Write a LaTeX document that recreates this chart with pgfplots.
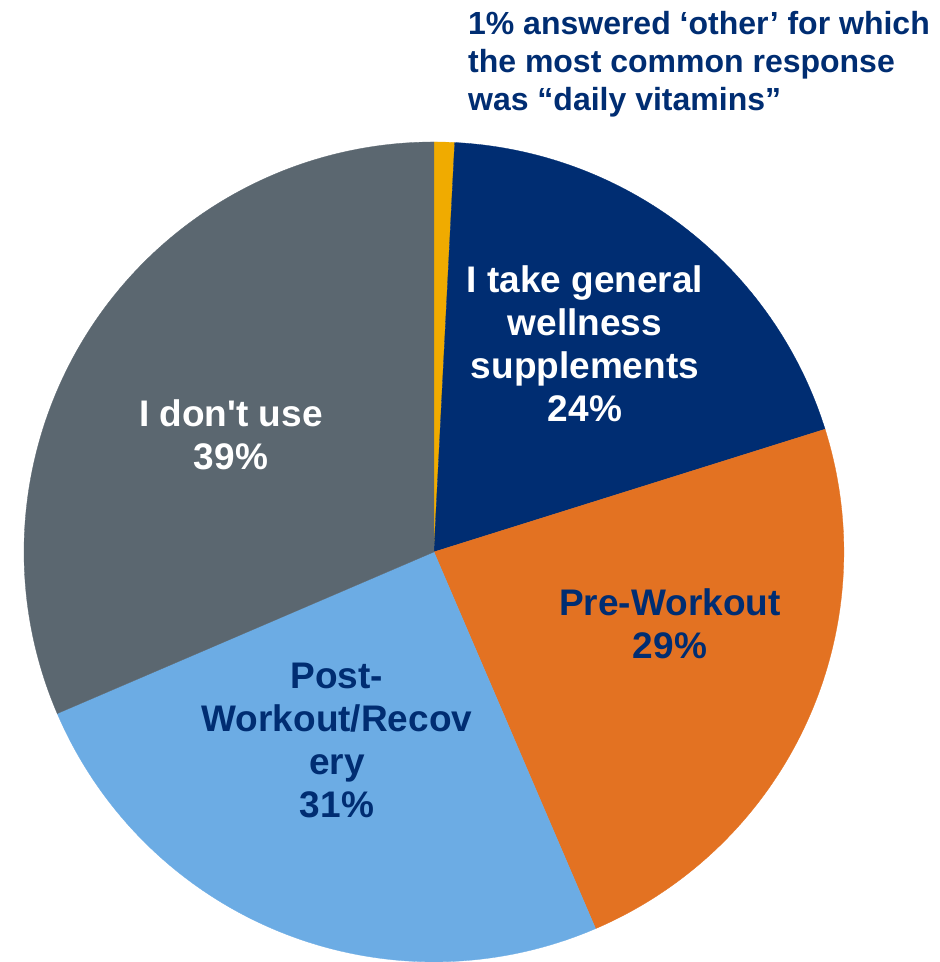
\documentclass[border=0pt]{standalone}
\usepackage{pgfplots}
\usepackage{pgfplotstable}
\pgfplotsset{compat=1.18}
\usepackage{fontspec}
\setmainfont{Liberation Sans}[Ligatures=TeXOff]
\definecolor{cOther}{RGB}{240,171,0}
\definecolor{cWell}{RGB}{0,45,114}
\definecolor{cPre}{RGB}{227,114,34}
\definecolor{cPost}{RGB}{108,172,228}
\definecolor{cNone}{RGB}{91,103,112}
\definecolor{cText}{RGB}{0,45,114}
\pgfplotstableread{
label value
other 1
wellness 24
pre 29
post 31
none 39
}\piedata
\begin{document}
\begin{tikzpicture}
\pgfplotstablegetelem{0}{value}\of\piedata \pgfmathsetmacro\vA{\pgfplotsretval}
\pgfplotstablegetelem{1}{value}\of\piedata \pgfmathsetmacro\vB{\pgfplotsretval}
\pgfplotstablegetelem{2}{value}\of\piedata \pgfmathsetmacro\vC{\pgfplotsretval}
\pgfplotstablegetelem{3}{value}\of\piedata \pgfmathsetmacro\vD{\pgfplotsretval}
\pgfplotstablegetelem{4}{value}\of\piedata \pgfmathsetmacro\vE{\pgfplotsretval}
\pgfmathsetmacro\tot{\vA+\vB+\vC+\vD+\vE}
\pgfmathsetmacro\aA{90}
\pgfmathsetmacro\aB{\aA-360*\vA/\tot}
\pgfmathsetmacro\aC{\aB-360*\vB/\tot}
\pgfmathsetmacro\aD{\aC-360*\vC/\tot}
\pgfmathsetmacro\aE{\aD-360*\vD/\tot}
\pgfmathsetmacro\aF{\aE-360*\vE/\tot}
\def\R{410}
\begin{axis}[width=940pt,height=962pt,scale only axis,hide axis,
  xmin=-434,xmax=506,ymin=-410,ymax=552,clip=false]
\path (axis cs:-434,-410) rectangle (axis cs:506,552);
\addplot[fill=cOther,draw=cOther,line width=0.3pt,domain=\aB:\aA,samples=10,variable=\t] ({\R*cos(\t)},{\R*sin(\t)}) -- (axis cs:0,0) -- cycle;
\addplot[fill=cWell,draw=cWell,line width=0.3pt,domain=\aC:\aB,samples=120,variable=\t] ({\R*cos(\t)},{\R*sin(\t)}) -- (axis cs:0,0) -- cycle;
\addplot[fill=cPre,draw=cPre,line width=0.3pt,domain=\aD:\aC,samples=140,variable=\t] ({\R*cos(\t)},{\R*sin(\t)}) -- (axis cs:0,0) -- cycle;
\addplot[fill=cPost,draw=cPost,line width=0.3pt,domain=\aE:\aD,samples=150,variable=\t] ({\R*cos(\t)},{\R*sin(\t)}) -- (axis cs:0,0) -- cycle;
\addplot[fill=cNone,draw=cNone,line width=0.3pt,domain=\aF:\aE,samples=180,variable=\t] ({\R*cos(\t)},{\R*sin(\t)}) -- (axis cs:0,0) -- cycle;
\node[anchor=base,align=center,text=white,inner sep=0pt,font=\fontsize{37}{43}\selectfont\bfseries] at (axis cs:151,130) {I take general\\wellness\\supplements\\24\%};
\node[anchor=base,align=center,text=cText,inner sep=0pt,font=\fontsize{37}{43}\selectfont\bfseries] at (axis cs:236,-107) {Pre-Workout\\29\%};
\node[anchor=base,align=center,text=cText,inner sep=0pt,font=\fontsize{37}{43}\selectfont\bfseries] at (axis cs:-97,-266) {Post-\\Workout/Recov\\ery\\31\%};
\node[anchor=base,align=center,text=white,inner sep=0pt,font=\fontsize{37}{43}\selectfont\bfseries] at (axis cs:-203,82) {I don't use\\39\%};
\node[anchor=base west,align=left,text=cText,inner sep=0pt,font=\fontsize{32}{38}\selectfont\bfseries] at (axis cs:34,441) {1\% answered ‘other’ for which\\the most common response\\was “daily vitamins”};
\end{axis}
\end{tikzpicture}
\end{document}
